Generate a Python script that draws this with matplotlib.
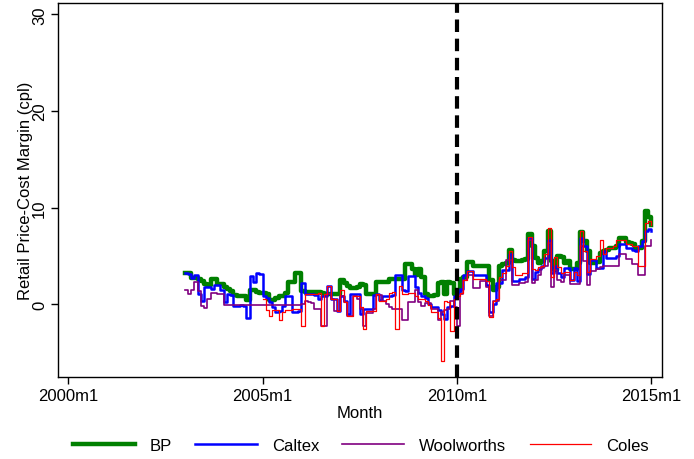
import numpy as np
import matplotlib.pyplot as plt

plt.rcParams['font.family'] = ['Liberation Sans', 'DejaVu Sans']

# monthly margins (cpl), 2003m1 .. 2015m1
bp = [3.2, 3.2, 2.7, 2.7, 2.6, 2.4, 2.1, 2.0, 2.6, 2.6, 2.1, 2.1,
      1.8, 1.6, 1.4, 0.9, 0.8, 0.8, 0.8, 0.4, 1.5, 1.5, 1.3, 1.2,
      1.2, 1.0, 0.4, 0.4, 0.6, 0.8, 0.8, 1.2, 2.3, 2.3, 3.2, 3.2,
      1.4, 1.3, 1.3, 1.3, 1.3, 1.3, 1.2, 1.0, 1.0, 1.0, 1.0, 1.0,
      2.5, 2.2, 1.9, 1.7, 1.7, 1.8, 2.1, 2.0, 1.1, 1.0, 1.0, 2.3,
      2.3, 2.3, 2.3, 2.6, 2.6, 2.6, 2.6, 2.6, 4.2, 4.2, 3.6, 3.0,
      3.6, 2.8, 1.0, 0.8, 0.8, 0.9, 2.2, 2.3, 1.0, 2.3, 2.2, 1.0,
      1.4, 2.6, 2.8, 4.4, 4.4, 4.0, 4.0, 4.0, 4.0, 3.9, 2.5, 1.5,
      1.8, 4.0, 4.2, 4.3, 5.6, 4.6, 4.5, 4.5, 4.6, 4.7, 7.3, 6.0,
      4.8, 4.3, 4.5, 5.5, 7.6, 4.5, 3.5, 5.0, 4.9, 4.3, 4.5, 3.6,
      3.6, 4.3, 7.5, 6.5, 5.5, 4.3, 4.3, 4.4, 5.3, 5.5, 5.6, 5.8,
      5.8, 6.0, 6.8, 6.8, 6.4, 6.3, 6.2, 5.8, 5.8, 6.5, 9.6, 9.0,
      8.2]

caltex = [3.2, 3.1, 2.7, 3.0, 1.0, 0.3, 1.8, 1.8, 1.6, 2.0, 2.0, 1.5,
          0.2, 1.0, 0.9, -0.2, -0.2, -0.1, -0.2, -1.4, 2.9, 2.3, 3.2, 3.1,
          0.8, 0.6, 0.2, -0.3, -0.8, -0.7, -0.2, 0.8, 0.8, -0.8, -0.8, -0.7,
          2.2, 1.0, 1.0, 1.0, 0.9, 0.5, 0.8, 0.8, 1.9, 0.5, 0.5, -0.7,
          0.8, 0.3, -1.0, 1.0, 1.0, 1.0, -1.0, -0.5, -0.5, -0.5, 0.9, 1.0,
          0.4, 0.8, 0.8, 0.8, 0.9, 3.0, 3.0, 1.5, 1.4, 2.9, 2.9, 1.8,
          1.2, 0.8, 0.6, 0.0, -0.3, -0.3, -0.6, -1.0, -1.5, -0.3, -0.2, 0.8,
          1.2, 1.6, 3.0, 3.4, 3.4, 3.0, 3.0, 3.0, 3.0, 2.0, -0.8, 0.0,
          2.2, 2.2, 3.5, 3.5, 5.2, 2.4, 2.4, 2.6, 2.6, 2.8, 6.8, 2.6,
          3.3, 3.6, 4.0, 4.8, 6.6, 3.2, 4.0, 3.2, 2.8, 3.7, 3.7, 2.5,
          3.7, 2.4, 6.8, 6.0, 3.1, 4.6, 4.6, 3.7, 3.7, 5.5, 4.8, 4.8,
          4.8, 5.0, 6.2, 6.2, 5.8, 5.8, 5.6, 5.5, 6.0, 6.5, 7.6, 7.8,
          7.6]

woolworths = [1.5, 1.0, 1.5, 2.3, 1.4, -0.2, -0.4, 0.5, 1.2, 1.2, 1.0, 1.0,
              -0.1, -0.1, -0.1, -0.1, -0.1, -0.1, -0.1, -0.1, -0.1, -0.1, -0.1, -0.1,
              -0.1, -0.1, -0.1, -0.1, -0.1, -0.1, -0.1, -0.1, -0.1, -0.1, -0.1, -0.1,
              0.0, 0.3, 0.2, 0.1, -0.5, -0.5, -2.3, -2.3, 1.0, 0.5, -0.7, -0.7,
              0.8, 0.2, -1.2, -1.2, 0.8, 0.5, -0.5, -2.3, -0.9, -0.9, -0.5, 0.9,
              0.9, 0.3, 0.0, -0.3, -0.5, -0.5, -0.5, -1.6, -1.6, 0.2, 0.2, 1.5,
              0.2, -0.2, 0.1, 0.1, -0.5, -0.5, -1.6, -0.8, -0.6, -0.5, 0.3, -0.3,
              -2.3, 1.0, 2.5, 3.0, 3.0, 1.7, 1.7, 2.4, 2.4, 1.8, -1.2, 0.3,
              0.3, 2.5, 2.5, 4.6, 4.6, 2.0, 2.0, 2.2, 2.2, 2.3, 6.6, 2.2,
              2.5, 3.0, 3.7, 4.0, 6.3, 1.8, 3.5, 2.5, 2.3, 3.0, 3.0, 2.1,
              2.1, 2.1, 6.0, 4.5, 2.0, 3.4, 3.4, 3.6, 3.8, 4.0, 4.0, 4.0,
              4.0, 4.0, 5.2, 5.2, 4.7, 4.7, 4.2, 4.2, 3.0, 3.0, 6.0, 6.0,
              6.6]

# Coles series starts 2005m1
coles = [np.nan] * 24 + [
         0.5, -0.6, -1.2, -0.6, -0.6, -1.6, -0.8, -0.6, -0.6, -0.5, -0.5, -0.5,
         -2.3, 1.0, 1.0, 1.0, 1.0, 1.2, -2.3, 1.0, 1.9, 0.5, 0.5, -0.7,
         1.5, 0.2, -1.2, -1.2, 0.8, 0.8, -0.3, -2.6, -0.7, -0.7, -0.7, 1.0,
         0.3, 0.3, 0.5, 1.2, 1.3, -2.6, 1.9, 1.0, 1.0, 1.2, 1.2, 0.8,
         0.5, 0.5, 0.3, -0.1, -0.8, -0.8, -1.4, -5.9, 0.3, 0.2, -2.8, 0.5,
         0.8, 1.2, 2.5, 3.4, 3.4, 2.6, 2.6, 2.6, 2.6, 2.4, -1.3, 0.3,
         0.5, 2.8, 3.2, 4.0, 5.5, 3.8, 3.0, 3.0, 3.2, 3.2, 7.0, 3.6,
         3.5, 3.8, 4.0, 5.2, 7.9, 2.8, 4.9, 3.8, 3.2, 3.3, 3.3, 2.5,
         3.3, 3.0, 7.6, 5.5, 3.3, 4.7, 4.7, 5.0, 6.6, 5.2, 5.8, 5.8,
         6.0, 6.6, 6.6, 6.6, 6.2, 6.2, 6.0, 6.0, 3.9, 3.9, 8.4, 8.6,
         8.2]

# months since 2000m1
months = np.arange(36, 36 + len(bp))
tick_months = [0, 60, 120, 180]
tick_labels = ['2000m1', '2005m1', '2010m1', '2015m1']
break_month = 120

fig = plt.figure(figsize=(6.94, 4.6), dpi=100)
ax = fig.add_axes([0.0836, 0.178, 0.870, 0.813])

ax.plot(months, bp, drawstyle='steps-post', color='#008000', lw=3.2, label='BP')
ax.plot(months, caltex, drawstyle='steps-post', color='#0000ff', lw=1.8, label='Caltex')
ax.plot(months, woolworths, drawstyle='steps-post', color='#800080', lw=1.2, label='Woolworths')
ax.plot(months, coles, drawstyle='steps-post', color='#ff0000', lw=0.9, label='Coles')
ax.axvline(break_month, color='black', lw=3, ls=(0, (3, 1.6)))

ax.set_xlim(-3.1, 183.2)
ax.set_ylim(-7.55, 31.15)
ax.set_xticks(tick_months)
ax.set_xticklabels(tick_labels, fontsize=12)
ax.set_yticks([0, 10, 20, 30])
ax.set_yticklabels(['0', '10', '20', '30'], fontsize=12, rotation=90, va='center')
ax.tick_params(direction='out', length=5, width=1, colors='black', pad=3)
for s in ax.spines.values():
    s.set_linewidth(1)

ax.set_xlabel('Month', fontsize=12, labelpad=1)
ax.set_ylabel('Retail Price-Cost Margin (cpl)', fontsize=12, labelpad=-1)

fig.legend(loc='lower center', bbox_to_anchor=(0.52, -0.02), ncol=4, frameon=False,
           fontsize=12, handlelength=3.7, handletextpad=0.9, columnspacing=1.4)

fig.savefig('out.png', dpi=100)
